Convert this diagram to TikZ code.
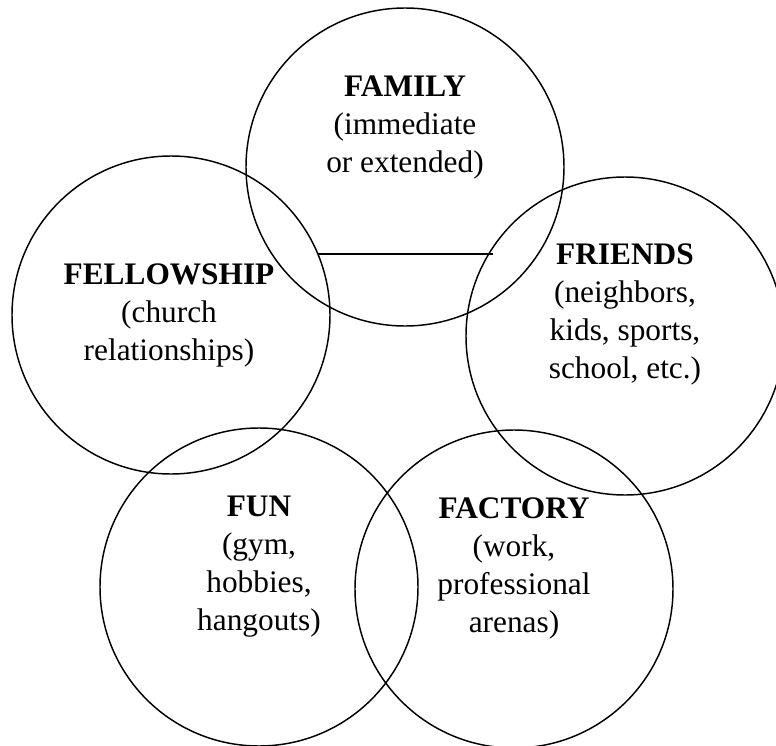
\documentclass[tikz,border=0pt]{standalone}
\usepackage{fontspec}
\setmainfont{Liberation Serif}
\tikzset{
  ring/.style={circle,draw,line width=1.1pt,minimum size=238.5pt,inner sep=0pt},
  label/.style={anchor=base,inner sep=0.75pt,align=center,font=\fontsize{23.5}{28.5}\selectfont}
}
\begin{document}
\begin{tikzpicture}[x=0.75pt,y=0.75pt,yscale=-1,xscale=1]
			\useasboundingbox (0,0) rectangle (776,746);
			
			%Circles
			\node [ring] (family) at (405,167) {};
			\node [ring] (fellowship) at (171,315) {};
			\node [ring] (friends) at (625,336) {};
			\node [ring] (fun) at (259,587) {};
			\node [ring] (factory) at (514,589) {};
			
			%Straight Lines
			\coordinate (linel) at (318,254);
			\coordinate (liner) at (493,254);
			\draw [line width=0.9pt] (linel) -- (liner) ;
			
			
			\node (familytxt) at (405,172) [label] {\textbf{FAMILY}\\(immediate\\or extended)};
			
			\node (fellowshiptxt) at (169,360) [label] {\textbf{FELLOWSHIP}\\(church\\relationships)};
			
			\node (friendstxt) at (625,378) [label] {\textbf{FRIENDS}\\(neighbors,\\kids, sports,\\school, etc.)};
			
			\node (funtxt) at (259,630) [label] {\textbf{FUN}\\(gym,\\hobbies,\\hangouts)};
			
			\node (factorytxt) at (514,632) [label] {\textbf{FACTORY}\\(work,\\professional\\arenas)};
			
			
		\end{tikzpicture}
\end{document}
